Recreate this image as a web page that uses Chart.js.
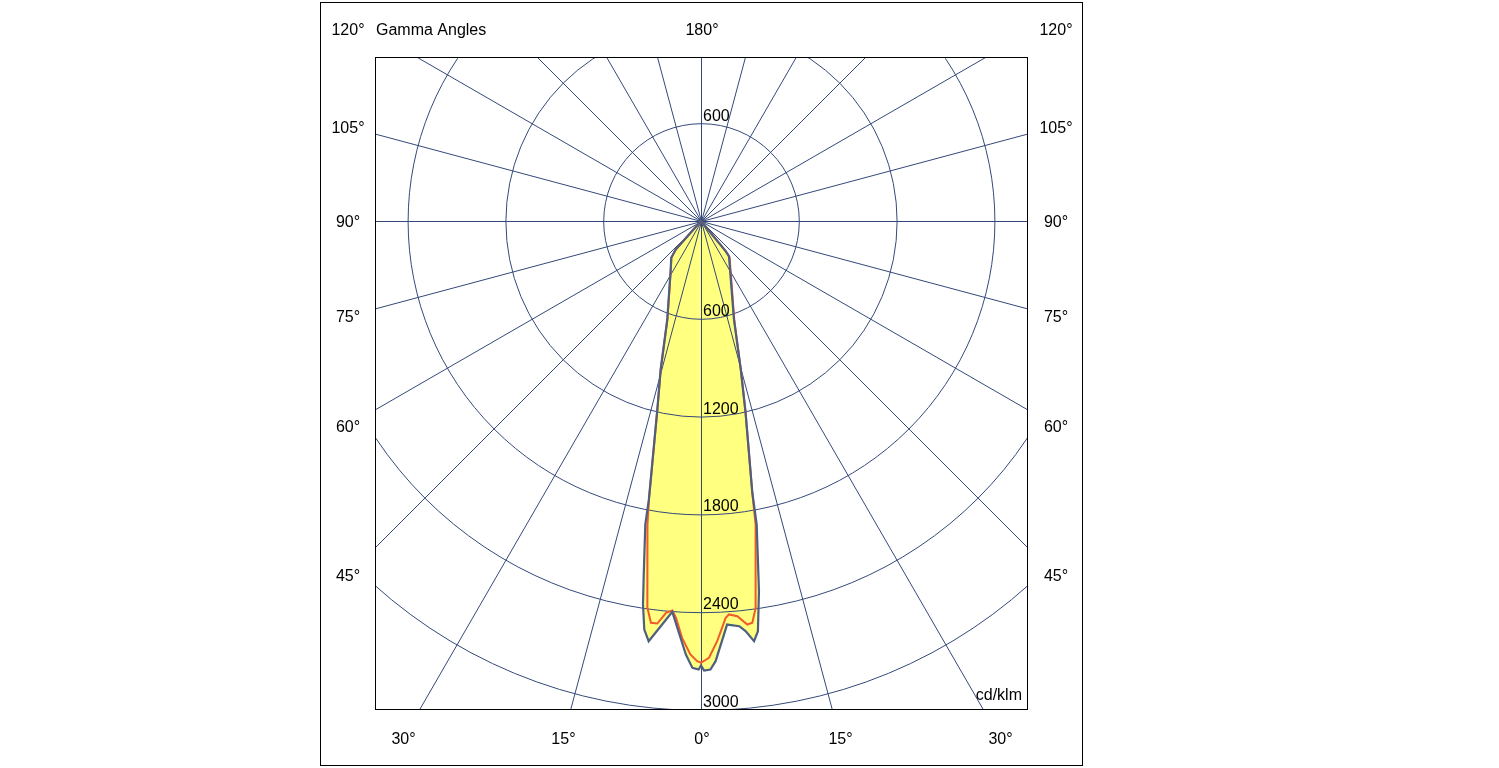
<!DOCTYPE html>
<html>
<head>
<meta charset="utf-8">
<script src="https://cdn.jsdelivr.net/npm/chart.js@4"></script>
<style>
  body { margin: 0; background: #fff; }
  #wrap { width: 1499px; height: 768px; }
</style>
</head>
<body>
<div id="wrap"><canvas id="lightChart"></canvas></div>
<script>
// gamma angles in degrees (0 = straight down, negative = left half), intensity in cd/klm
const outerGamma = [-48, -41.6, -39.0, -32.0, -18.9, -15.2, -13.05, -10.6, -10.4, -9.2, -8.6, -7.9, -7.1, -5.5, -4.2, -2.0, -1.1, -0.3, 0, 0.4, 1.2, 1.9, 3.7, 5.4, 6.2, 7.2, 7.9, 8.9, 10.4, 10.7, 13.1, 15.0, 18.5, 38.3, 39.3, 48];
const outerValues = [0, 234, 290, 351, 639, 944, 1187, 1738, 1893, 2197, 2380, 2531, 2598, 2487, 2404, 2661, 2742, 2752, 2727, 2758, 2752, 2702, 2481, 2497, 2531, 2598, 2541, 2299, 1893, 1695, 1206, 943, 637, 277, 239, 0];

const innerGamma = [-48, -41.6, -39.0, -32.0, -18.9, -15.2, -13.05, -10.6, -10.0, -7.9, -7.1, -6.2, -5.1, -4.2, -3.6, -2.6, -1.4, -0.5, 0, 1.05, 2.2, 3.56, 4.07, 5.25, 6.55, 7.28, 8.05, 10.2, 10.7, 13.1, 15.0, 18.5, 38.3, 39.3, 48];
const innerValues = [0, 232, 288, 349, 636, 940, 1183, 1733, 1891, 2394, 2484, 2484, 2413, 2396, 2439, 2560, 2660, 2701, 2710, 2680, 2580, 2439, 2420, 2435, 2492, 2485, 2396, 1892, 1693, 1206, 945, 645, 283, 242, 0];

const ringValues = [600, 1200, 1800, 2400, 3000];
const upperRingLabels = [600];
const gammaLabels = [0, 15, 30, 45, 60, 75, 90, 105, 120];
const unitLabel = "cd/klm";
const titleLabel = "Gamma Angles";

const gridColor = "#34497a";
const FONT = '16px "Liberation Sans", Arial, sans-serif';

function toXY(gammas, values) {
    return gammas.map((g, i) => {
        const t = g * Math.PI / 180;
        return { x: values[i] * Math.sin(t), y: -values[i] * Math.cos(t) };
    });
}

/* ========== POLAR GRID + LABELS ========== */
const polarGrid = {
    id: "polarGrid",
    beforeDatasetsDraw(chart) {
        const { ctx, chartArea: a, scales: { x, y } } = chart;
        const cx = x.getPixelForValue(0), cy = y.getPixelForValue(0);
        const k = (x.getPixelForValue(1000) - cx) / 1000;

        ctx.save();
        ctx.beginPath();
        ctx.rect(a.left, a.top, a.width, a.height);
        ctx.clip();
        ctx.strokeStyle = gridColor;
        ctx.lineWidth = 1;
        ringValues.forEach(v => {
            ctx.beginPath();
            ctx.arc(cx + 0.5, cy + 0.5, v * k, 0, Math.PI * 2);
            ctx.stroke();
        });
        for (let g = 0; g < 360; g += 15) {
            const t = g * Math.PI / 180;
            ctx.beginPath();
            ctx.moveTo(cx + 0.5, cy + 0.5);
            ctx.lineTo(cx + 0.5 + Math.sin(t) * 1200, cy + 0.5 + Math.cos(t) * 1200);
            ctx.stroke();
        }
        ctx.restore();
    },
    afterDatasetsDraw(chart) {
        const { ctx, chartArea: a, scales: { x, y } } = chart;
        const cx = x.getPixelForValue(0), cy = y.getPixelForValue(0);
        const k = (x.getPixelForValue(1000) - cx) / 1000;

        ctx.save();
        // plot box and outer frame
        ctx.strokeStyle = "#000";
        ctx.lineWidth = 1;
        ctx.strokeRect(a.left + 0.5, a.top - 0.5, a.width, a.height);
        ctx.strokeRect(a.left - 54.5, a.top - 55.5, a.width + 110, a.height + 111);

        ctx.fillStyle = "#000";
        ctx.font = FONT;

        // ring values
        ctx.textAlign = "left";
        ctx.textBaseline = "alphabetic";
        ringValues.forEach(v => ctx.fillText(String(v), cx + 2, cy + v * k - 3));
        upperRingLabels.forEach(v => ctx.fillText(String(v), cx + 2, cy - v * k - 2));

        ctx.textAlign = "right";
        ctx.fillText(unitLabel, a.right - 5, a.bottom - 10);

        // gamma labels round the box
        const L = 354, T = 192, B = 517;
        ctx.textAlign = "center";
        ctx.textBaseline = "middle";
        gammaLabels.forEach(g => {
            const t = g * Math.PI / 180;
            const s = Math.sin(t), c = Math.cos(t);
            let d = Infinity;
            if (s > 1e-6) d = Math.min(d, L / s);
            if (c > 1e-6) d = Math.min(d, B / c);
            if (c < -1e-6) d = Math.min(d, T / -c);
            let px = s * d, py = c * d;
            if (g === 120) { px = L; py = -T; }
            [1, -1].forEach(side => {
                if (g === 0 && side < 0) return;
                ctx.fillText(g + "°", cx + side * px + 1, cy + py + 2);
            });
        });
        ctx.fillText("180°", cx + 1, cy - T + 2);

        ctx.textAlign = "left";
        ctx.fillText(titleLabel, a.left + 1, cy - T + 2);
        ctx.restore();
    }
};

new Chart(document.getElementById("lightChart"), {
    type: "scatter",
    data: {
        datasets: [
            {
                data: toXY(outerGamma, outerValues),
                showLine: true,
                borderColor: "#4e5f80",
                borderWidth: 2.2,
                backgroundColor: "#ffff80",
                fill: "shape",
                pointRadius: 0,
                tension: 0
            },
            {
                data: toXY(innerGamma, innerValues),
                showLine: true,
                borderColor: "#f25a2c",
                borderWidth: 2,
                fill: false,
                pointRadius: 0,
                tension: 0
            }
        ]
    },
    options: {
        responsive: true,
        maintainAspectRatio: false,
        animation: false,
        layout: { padding: { left: 375, right: 472, top: 58, bottom: 58 } },
        scales: {
            x: { type: "linear", min: -2000, max: 2000, display: false },
            y: { type: "linear", min: -3000, max: 1000, display: false }
        },
        plugins: {
            legend: { display: false },
            tooltip: { enabled: false },
            filler: { drawTime: "beforeDraw" }
        }
    },
    plugins: [polarGrid]
});
</script>
</body>
</html>
